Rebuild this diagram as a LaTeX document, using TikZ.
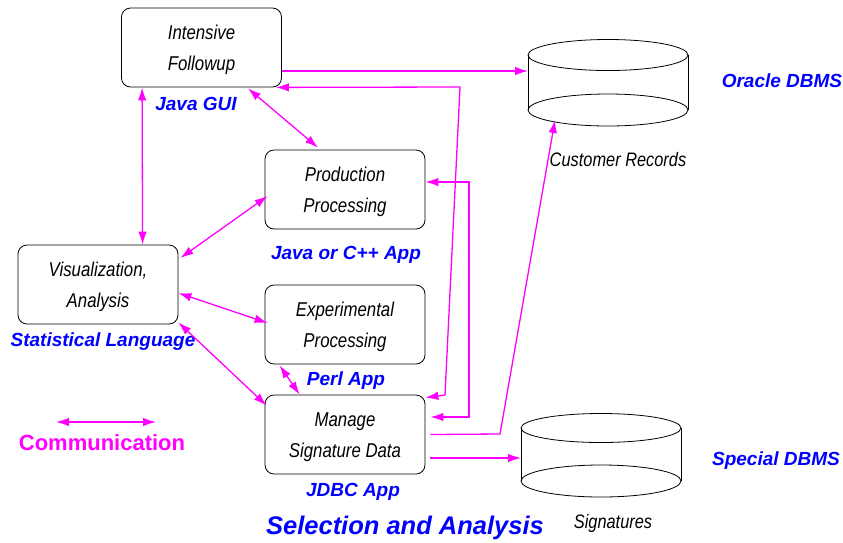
\documentclass[tikz,border=0pt]{standalone}
\usepackage{fontspec}
\setmainfont{Liberation Sans}
\newfontfamily\nar[FakeStretch=0.84]{Liberation Sans}
\usetikzlibrary{arrows.meta}
\definecolor{mag}{RGB}{255,0,255}
\definecolor{lblue}{RGB}{0,0,255}
\tikzset{
  box/.style={draw, rounded corners=9pt, line width=0.8pt, minimum width=160pt, minimum height=79pt, inner sep=0pt},
  boxtxt/.style={align=center, inner sep=0pt, font=\nar\itshape\fontsize{20}{31}\selectfont},
  lbl/.style={text=lblue, font=\bfseries\itshape\fontsize{19}{22}\selectfont, inner sep=0pt},
  dblab/.style={font=\nar\itshape\fontsize{19.5}{22}\selectfont, inner sep=0pt},
  onearr/.style={draw=mag, line width=1.3pt, -{Latex[length=13pt,width=8.5pt]}},
  dblarr/.style={draw=mag, line width=1.3pt, {Latex[length=13pt,width=8.5pt]}-{Latex[length=13pt,width=8.5pt]}},
  cyl/.style={draw, line width=0.8pt}
}
\begin{document}
\begin{tikzpicture}[x=1pt,y=-1pt]
\useasboundingbox (0,0) rectangle (843,542);
% boxes
\node[box] (fu) at (201.5,47.5) {};
\node[box] (pp) at (345,189.5) {};
\node[box] (va) at (98,284.5) {};
\node[box] (ep) at (345,324.5) {};
\node[box] (ms) at (345,434.5) {};
\node[boxtxt] (fut) at ([yshift=-2.5pt]fu.center) {Intensive\\Followup};
\node[boxtxt] (ppt) at ([yshift=-2.5pt]pp.center) {Production\\Processing};
\node[boxtxt] (vat) at ([yshift=-2.5pt]va.center) {Visualization,\\Analysis};
\node[boxtxt] (ept) at ([yshift=-2.5pt]ep.center) {Experimental\\Processing};
\node[boxtxt] (mst) at ([yshift=-2.5pt]ms.center) {Manage\\Signature Data};
% cylinders
\draw[cyl] (608,55) ellipse [x radius=80pt, y radius=15.5pt];
\draw[cyl] (608,110) ellipse [x radius=80pt, y radius=16pt];
\draw[cyl] (528,55) -- (528,110) (688,55) -- (688,110);
\draw[cyl] (601,428) ellipse [x radius=80pt, y radius=14.5pt];
\draw[cyl] (601,481) ellipse [x radius=80pt, y radius=16pt];
\draw[cyl] (521,428) -- (521,481) (681,428) -- (681,481);
\coordinate (crin) at (528,71);
\coordinate (crbot) at (555,120);
\coordinate (sgin) at (521,458);
% labels
\node[lbl] (l1) at (196,104) {Java GUI};
\node[lbl] (l2) at (346,255) {Java or C++ App};
\node[lbl] (l3) at (103,342) {Statistical Language};
\node[lbl] (l4) at (346,381) {Perl App};
\node[lbl] (l5) at (353,492) {JDBC App};
\node[lbl] (l6) at (782,81) {Oracle DBMS};
\node[lbl] (l7) at (776,461) {Special DBMS};
\node[lbl, font=\bfseries\itshape\fontsize{25.5}{28}\selectfont] (l8) at (405,528) {Selection and Analysis};
\node[dblab] (t1) at (618,160) {Customer Records};
\node[dblab] (t2) at (613,523) {Signatures};
\node[text=mag, font=\bfseries\fontsize{22}{26}\selectfont, inner sep=0pt] (cm) at (102,443) {Communication};
\coordinate (ca) at (56,422);
\coordinate (cb) at (156,422);
\draw[dblarr] (ca) -- (cb);
% connectors
\draw[onearr] ([yshift=-23.5pt]fu.east) -- (crin);
\draw[dblarr] ([xshift=-6pt]fu.south east) -- (460,87) -- (445,395) -- ([yshift=-3pt]ms.north east);
\draw[dblarr] ([yshift=7.5pt]pp.east) -- (469,182) -- (469,417) -- ([xshift=5pt,yshift=17.5pt]ms.east);
\draw[onearr] ([xshift=5pt]ms.east) -- (500,434) -- (crbot);
\draw[onearr] ([xshift=5pt,yshift=-23.5pt]ms.east) -- (sgin);
\draw[dblarr] ([xshift=21pt]fu.south west) -- ([xshift=125pt]va.north west);
\draw[dblarr] ([xshift=46.5pt,yshift=-1pt]fu.south) -- ([xshift=-27pt,yshift=2pt]pp.north);
\draw[dblarr] ([xshift=2pt,yshift=26.5pt]va.east) -- ([xshift=3pt,yshift=-6.5pt]pp.west);
\draw[dblarr] ([xshift=0pt,yshift=-8.5pt]va.east) -- ([xshift=3pt,yshift=1.5pt]ep.west);
\draw[dblarr] ([yshift=2pt]va.south east) -- ([xshift=2pt,yshift=-11pt]ms.north west);
\draw[dblarr] ([xshift=15pt,yshift=-1pt]ep.south west) -- ([xshift=35pt]ms.north west);
\end{tikzpicture}
\end{document}
